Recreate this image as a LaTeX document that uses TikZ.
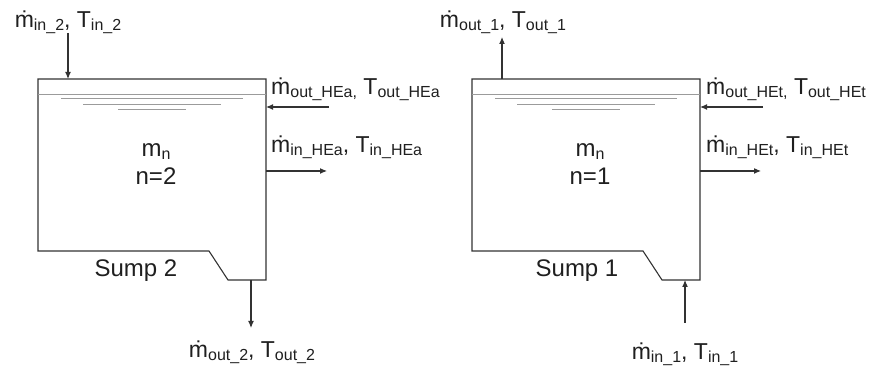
\documentclass[tikz,border=0pt]{standalone}
\usepackage{fontspec}
\setmainfont{Liberation Sans}
\usepackage{xcolor}
\usepackage{tikz}
\usetikzlibrary{arrows.meta}
\definecolor{GrisTanque}{RGB}{50,50,50}
\definecolor{GrisAgua}{RGB}{155,155,155}
\newcommand{\lowsub}[1]{\raisebox{-3pt}{\fontsize{16}{16}\selectfont #1}}

\begin{document}
\begin{tikzpicture}[x=1pt,y=1pt,>={Latex[length=7pt,width=6pt]},
  tank/.style={draw=GrisTanque,line width=1.1pt,line join=miter},
  flow/.style={->,draw=GrisTanque,line width=1.1pt},
  water/.style={draw=GrisAgua,line width=1pt},
  lbl/.style={inner sep=0pt,text=black!88,font=\fontsize{23}{26}\selectfont},
  big/.style={inner sep=0pt,text=black!88,font=\fontsize{24}{28}\selectfont,anchor=base}]
  \useasboundingbox (0,0) rectangle (873,371);

  % sump 2
  \draw[tank] (38,292) -- (266,292) -- (266,91) -- (228,91) -- (209,120) -- (38,120) -- cycle;
  \draw[water] (38,276.3) -- (266,276.3);
  \draw[water] (61,272) -- (243,272);
  \draw[water] (83,266.7) -- (221,266.7);
  \draw[water] (118,261.7) -- (186,261.7);
  \node[big] (massTwo) at (156,214) {m\lowsub{n}};
  \node[big] (nTwo) at (156,186) {n=2};
  \node[big] (sumpTwo) at (136,94) {Sump 2};

  \coordinate (inTwoA) at (68,338);
  \coordinate (inTwoB) at (68,292);
  \draw[flow] (inTwoA) -- (inTwoB);
  \node[lbl,anchor=base] (inTwo) at (68,343) {ṁ\lowsub{in\_2}, T\lowsub{in\_2}};

  \coordinate (outTwoA) at (251,91);
  \coordinate (outTwoB) at (251,43);
  \draw[flow] (outTwoA) -- (outTwoB);
  \node[lbl,anchor=base] (outTwo) at (252,13) {ṁ\lowsub{out\_2}, T\lowsub{out\_2}};

  \coordinate (outHEaA) at (329,264);
  \coordinate (outHEaB) at (266,264);
  \draw[flow] (outHEaA) -- (outHEaB);
  \node[lbl,anchor=base west] (outHEa) at (271,276) {ṁ\lowsub{out\_HEa,} T\lowsub{out\_HEa}};

  \coordinate (inHEaA) at (266,200);
  \coordinate (inHEaB) at (327,200);
  \draw[flow] (inHEaA) -- (inHEaB);
  \node[lbl,anchor=base west] (inHEa) at (271,218) {ṁ\lowsub{in\_HEa}, T\lowsub{in\_HEa}};

  % sump 1
  \draw[tank] (472,292) -- (700,292) -- (700,91) -- (662,91) -- (643,120) -- (472,120) -- cycle;
  \draw[water] (472,276.3) -- (700,276.3);
  \draw[water] (495,272) -- (677,272);
  \draw[water] (517,266.7) -- (655,266.7);
  \draw[water] (552,261.7) -- (620,261.7);
  \node[big] (massOne) at (590,214) {m\lowsub{n}};
  \node[big] (nOne) at (590,186) {n=1};
  \node[big] (sumpOne) at (577,94) {Sump 1};

  \coordinate (outOneA) at (502,292);
  \coordinate (outOneB) at (502,334);
  \draw[flow] (outOneA) -- (outOneB);
  \node[lbl,anchor=base] (outOne) at (503,343) {ṁ\lowsub{out\_1}, T\lowsub{out\_1}};

  \coordinate (inOneA) at (685,48);
  \coordinate (inOneB) at (685,91);
  \draw[flow] (inOneA) -- (inOneB);
  \node[lbl,anchor=base] (inOne) at (685,11) {ṁ\lowsub{in\_1}, T\lowsub{in\_1}};

  \coordinate (outHEtA) at (763,264);
  \coordinate (outHEtB) at (700,264);
  \draw[flow] (outHEtA) -- (outHEtB);
  \node[lbl,anchor=base west] (outHEt) at (706,276) {ṁ\lowsub{out\_HEt,} T\lowsub{out\_HEt}};

  \coordinate (inHEtA) at (700,200);
  \coordinate (inHEtB) at (761,200);
  \draw[flow] (inHEtA) -- (inHEtB);
  \node[lbl,anchor=base west] (inHEt) at (706,218) {ṁ\lowsub{in\_HEt}, T\lowsub{in\_HEt}};
\end{tikzpicture}
\end{document}
